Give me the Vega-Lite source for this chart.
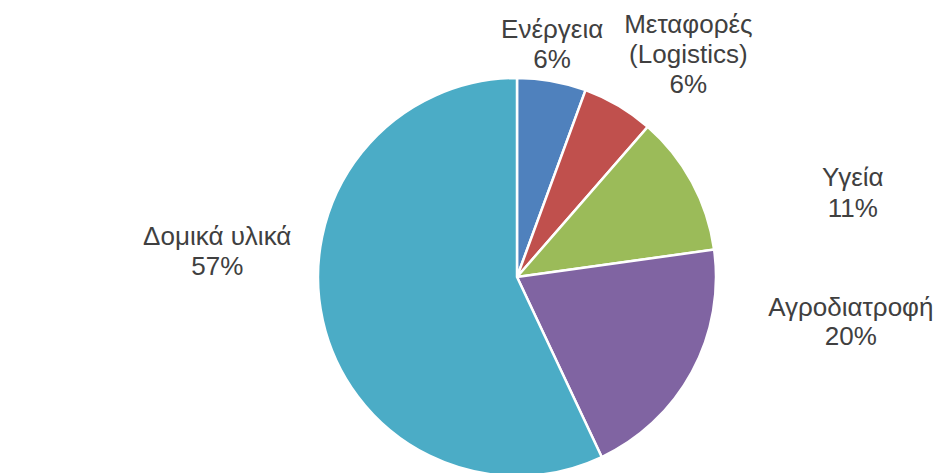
{
  "$schema": "https://vega.github.io/schema/vega-lite/v6.json",
  "width": 842,
  "height": 392,
  "autosize": {"type": "none"},
  "padding": {"left": 96, "top": 81, "right": 0, "bottom": 0},
  "background": "white",
  "config": {"view": {"stroke": null}, "text": {"font": "Liberation Sans"}},
  "data": {
    "values": [
      {"category": "Ενέργεια", "value": 5.6, "label": "Ενέργεια\n6%"},
      {"category": "Μεταφορές (Logistics)", "value": 5.8, "label": "Μεταφορές\n(Logistics)\n6%"},
      {"category": "Υγεία", "value": 11.4, "label": "Υγεία\n11%"},
      {"category": "Αγροδιατροφή", "value": 20.2, "label": "Αγροδιατροφή\n20%"},
      {"category": "Δομικά υλικά", "value": 57.0, "label": "Δομικά υλικά\n57%"}
    ]
  },
  "transform": [{"window": [{"op": "row_number", "as": "idx"}]}],
  "encoding": {
    "theta": {"field": "value", "type": "quantitative", "stack": true},
    "order": {"field": "idx", "type": "quantitative"}
  },
  "layer": [
    {
      "mark": {"type": "arc", "outerRadius": 199, "stroke": "white", "strokeWidth": 2.5},
      "encoding": {
        "color": {
          "field": "category",
          "type": "nominal",
          "scale": {
            "domain": ["Ενέργεια", "Μεταφορές (Logistics)", "Υγεία", "Αγροδιατροφή", "Δομικά υλικά"],
            "range": ["#4F81BD", "#C0504D", "#9BBB59", "#8064A2", "#4BACC6"]
          },
          "legend": null
        }
      }
    },
    {
      "mark": {"type": "text", "radius": 235, "dx": -6, "dy": -8, "fontSize": 26, "lineHeight": 30, "lineBreak": "\n", "baseline": "alphabetic", "align": "center", "color": "#404040"},
      "encoding": {"text": {"condition": {"test": "datum.category === 'Ενέργεια'", "field": "label"}, "value": ""}}
    },
    {
      "mark": {"type": "text", "radius": 258, "dx": 40, "dy": -22, "fontSize": 26, "lineHeight": 30, "lineBreak": "\n", "baseline": "alphabetic", "align": "center", "color": "#404040"},
      "encoding": {"text": {"condition": {"test": "datum.category === 'Μεταφορές (Logistics)'", "field": "label"}, "value": ""}}
    },
    {
      "mark": {"type": "text", "radius": 300, "dx": 72, "dy": 52, "fontSize": 26, "lineHeight": 31, "lineBreak": "\n", "baseline": "alphabetic", "align": "center", "color": "#404040"},
      "encoding": {"text": {"condition": {"test": "datum.category === 'Υγεία'", "field": "label"}, "value": ""}}
    },
    {
      "mark": {"type": "text", "radius": 300, "dx": 70, "dy": -104, "fontSize": 26, "lineHeight": 29, "lineBreak": "\n", "baseline": "alphabetic", "align": "center", "color": "#404040"},
      "encoding": {"text": {"condition": {"test": "datum.category === 'Αγροδιατροφή'", "field": "label"}, "value": ""}}
    },
    {
      "mark": {"type": "text", "radius": 300, "dx": -7, "dy": -97, "fontSize": 26, "lineHeight": 30, "lineBreak": "\n", "baseline": "alphabetic", "align": "center", "color": "#404040"},
      "encoding": {"text": {"condition": {"test": "datum.category === 'Δομικά υλικά'", "field": "label"}, "value": ""}}
    }
  ]
}
